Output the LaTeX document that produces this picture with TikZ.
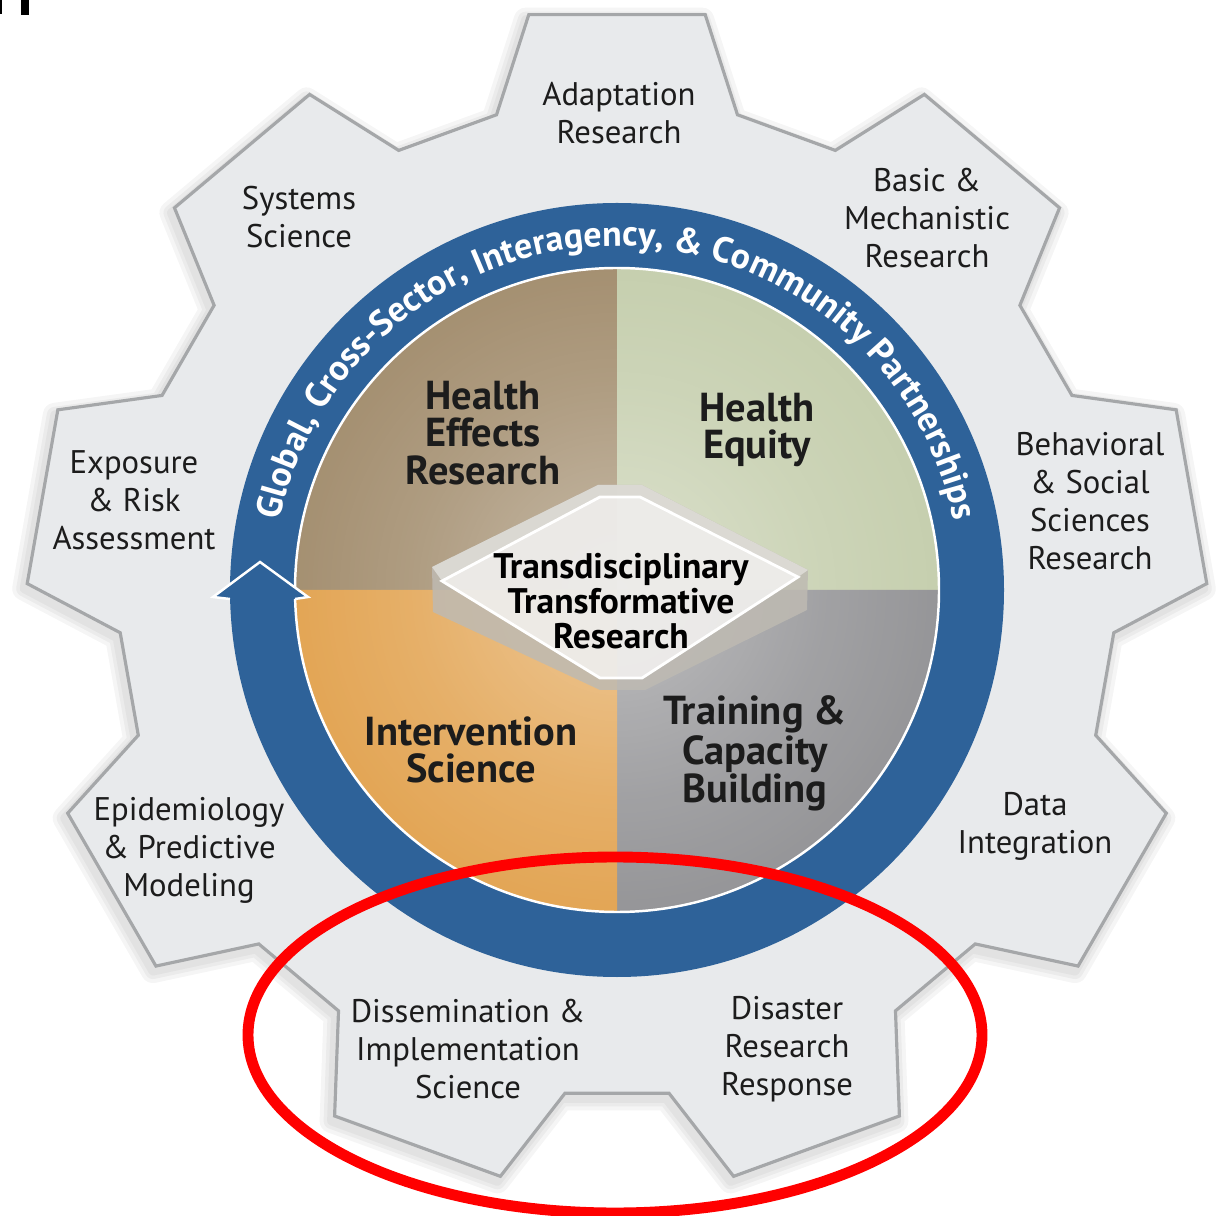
\documentclass[tikz,border=0pt]{standalone}
\usepackage{fontspec}
\setmainfont{PT Sans}
\usetikzlibrary{decorations.text}
\usetikzlibrary{fadings}
\definecolor{ringblue}{HTML}{2E6299}
\definecolor{effectsbrown}{HTML}{9B8462}
\definecolor{equitygreen}{HTML}{C0CAA6}
\definecolor{intervorange}{HTML}{E09C43}
\definecolor{traininggray}{HTML}{8A8A8D}
\definecolor{gearhi}{HTML}{E8EAEC}
\definecolor{gearlo}{HTML}{C2C4C6}
\definecolor{gearedge}{HTML}{A5A7A9}
\definecolor{bevel}{HTML}{BEBAB2}
\definecolor{bevelhi}{HTML}{DEDCD7}
\definecolor{labelink}{HTML}{1C1C1C}
\pgfdeclareradialshading{gearshade}{\pgfpointorigin}{color(0bp)=(gearhi); color(31bp)=(gearhi); color(50bp)=(gearlo)}
\pgfdeclareradialshading{glowshade}{\pgfpointorigin}{color(0bp)=(pgftransparent!55); color(16bp)=(pgftransparent!80); color(34bp)=(pgftransparent!100); color(50bp)=(pgftransparent!100)}
\pgfdeclareradialshading{rimshade}{\pgfpointorigin}{color(0bp)=(pgftransparent!100); color(32bp)=(pgftransparent!100); color(50bp)=(pgftransparent!50)}
\pgfdeclarefading{glow}{\pgfuseshading{glowshade}}
\pgfdeclarefading{rim}{\pgfuseshading{rimshade}}
\newcommand{\gearpath}{(256:498) \foreach \ang in {270,310,...,590}{ -- (\ang-14:498) -- (\ang-8.6:590) -- (\ang+8.6:590) -- (\ang+14:498)} -- cycle}
\tikzset{
  outerlab/.style={align=center, inner sep=0pt, text=labelink, font=\fontsize{9.3}{10.8}\selectfont},
  quadlab/.style={align=center, inner sep=0pt, text=labelink, font=\bfseries\fontsize{11.5}{10.6}\selectfont},
  hexlab/.style={align=center, inner sep=0pt, text=black, font=\bfseries\fontsize{10.1}{10}\selectfont}
}

\begin{document}
\begin{tikzpicture}[x=0.01cm,y=-0.01cm]
  \useasboundingbox (0,0) rectangle (1218,1216);
  \fill (0,0) rectangle (2,14);
  \fill (21,0) rectangle (29,15);

  \begin{scope}[shift={(617,598)}]
    \foreach \w in {24,16,9}{
      \draw[black, draw opacity=0.04, line width=\w*0.2845pt, line join=round, shift={(-3,5)}] \gearpath;
    }
    \shadedraw[shading=gearshade, draw=gearedge, line width=0.9pt] \gearpath;
  \end{scope}

  \begin{scope}[shift={(617,590)}]
    \fill[ringblue] (0,0) circle (387);
    \foreach \col/\from in {
      effectsbrown/180,
      equitygreen/270,
      traininggray/0,
      intervorange/90%
    }{
      \fill[\col] (0,0) -- (\from:322) arc[start angle=\from, end angle=\from+90, radius=322] -- cycle;
    }
    \fill[white, path fading=glow] (0,0) circle (322);
    \fill[black, path fading=rim, fill opacity=0.45] (0,0) circle (322);
    \draw[white, line width=0.7pt] (0,0) circle (322);

    \fill[ringblue] (-404,7) -- (-357,-28) -- (-309,7) -- (-322,9) -- (-387,9) -- cycle;
    \draw[white, line width=0.7pt] (-387,9) -- (-404,7) -- (-357,-28) -- (-309,7) -- (-322,9);

    \path[decorate, decoration={text along path, text align=center,
      text={|\bfseries\fontsize{10.2}{10.2}\selectfont\color{white}|Global, Cross-Sector, Interagency, {\&} Community Partnerships}}]
      (180:344) arc[start angle=180, end angle=360, radius=344];
  \end{scope}

  \fill[bevel, fill opacity=0.85] (432,567) -- (598,485) -- (642,485) -- (808,570) -- (807,610) -- (645,690) -- (600,690) -- (433,612) -- cycle;
  \fill[bevelhi, fill opacity=0.9] (432,567) -- (598,485) -- (642,485) -- (808,570) -- (798,577) -- (640,497) -- (600,497) -- (442,581) -- cycle;
  \filldraw[fill=white, fill opacity=0.7, draw=white, line width=0.8pt] (442,581) -- (600,497) -- (640,497) -- (798,577) -- (642,678) -- (600,678) -- cycle;
  \node[hexlab] (trans) at (621,601) {Transdisciplinary\\Transformative\\Research};

  \foreach \x/\y/\nm/\txt in {
    483/433/effects/{Health\\Effects\\Research},
    757/430/equity/{Health\\Equity},
    471/750/interv/{Intervention\\Science},
    755/753/training/{Training \&\\Capacity\\Building}%
  }{
    \node[quadlab] (\nm) at (\x,\y) {\txt};
  }

  \foreach \x/\y/\nm/\txt in {
    619/113/adapt/{Adaptation\\Research},
    299/217/systems/{Systems\\Science},
    927/218/basic/{Basic \&\\Mechanistic\\Research},
    134/500/expo/{Exposure\\\& Risk\\Assessment},
    1090/501/behav/{Behavioral\\\& Social\\Sciences\\Research},
    189/850/epi/{Epidemiology\\\& Predictive\\Modeling},
    1035/826/data/{Data\\Integration},
    468/1049/dissem/{Dissemination \&\\Implementation\\Science},
    787/1049/disaster/{Disaster\\Research\\Response}%
  }{
    \node[outerlab] (\nm) at (\x,\y) {\txt};
  }

  \draw[red, line width=3.1pt] (615,1035) ellipse [x radius=367, y radius=178];
\end{tikzpicture}
\end{document}
